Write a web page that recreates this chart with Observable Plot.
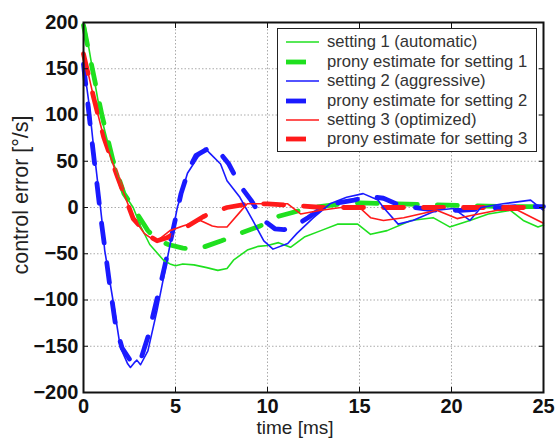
<!DOCTYPE html>
<html>
<head>
<meta charset="utf-8">
<script src="https://cdn.jsdelivr.net/npm/d3@7"></script>
<script src="https://cdn.jsdelivr.net/npm/@observablehq/plot@0.6"></script>
<style>
  body { margin: 0; background: #fff; }
  #wrap { position: relative; width: 555px; height: 439px; font-family: "Liberation Sans", Arial, sans-serif; }
  #legend { position: absolute; left: 277px; top: 28px; width: 260px; height: 124px; border: 1.5px solid #222; background: #fff; box-sizing: border-box; }
  #legend .row { position: absolute; left: 0; height: 20px; }
  #legend .row span { position: absolute; left: 49px; top: 0; line-height: 20px; white-space: nowrap; font-size: 16.6px; color: #333; }
  #legend svg { position: absolute; left: 8px; top: 0; }
  .axlabel { position: absolute; white-space: nowrap; color: #222; line-height: 1; }
  #xlabel { left: 0; width: 590px; text-align: center; top: 418px; font-size: 19px; }
  #ylabel { left: 22px; top: 195px; font-size: 21.5px; transform: translate(-50%, -50%) rotate(-90deg); }
</style>
</head>
<body>
<div id="wrap"></div>
<script>
// time [ms] and control error [°/s]
const t1 = [0, 0.1, 0.5, 0.92, 1.57, 2.2, 2.7, 3.1, 3.6, 4.35, 4.7, 5.0, 5.4, 6.0, 6.7, 7.3, 7.8, 8.15, 8.9, 9.5, 10.0, 10.6, 11.25, 12.0, 12.9, 13.8, 14.9, 15.6, 16.5, 17.8, 19.0, 19.9, 21.0, 22.0, 23.2, 23.9, 24.7, 25];
const setting1 = [197, 195, 148, 101, 51, 15, 0, -20, -40, -57, -61, -63, -61, -62, -65, -68, -66, -57, -46, -42, -41, -38, -43, -32, -25, -18, -18, -29, -25, -14, -11, -21, -14, -7, -3, -14, -21, -19];

const tp1 = [0, 0.5, 1.0, 1.6, 2.2, 2.7, 3.5, 4.0, 4.6, 5.4, 6.0, 6.5, 7.5, 8.5, 9.6, 10.5, 11.8, 12.5, 14.0, 15.0, 17.0, 19.0, 21.0, 23.0, 25];
const prony1 = [197, 148, 100, 51, 15, 0, -25, -35, -40, -44, -45, -43, -36, -28, -20, -10, -3, 0, 4, 5, 4, 3, 2, 1, 1];

const t2 = [0, 0.3, 0.55, 0.8, 1.0, 1.15, 1.6, 2.0, 2.4, 2.55, 2.75, 2.9, 3.1, 3.5, 4.0, 4.5, 5.1, 5.65, 6.2, 6.6, 6.9, 7.45, 7.8, 8.5, 9.2, 9.8, 10.3, 11.1, 11.6, 12.5, 13.4, 14.3, 15.2, 16.0, 16.3, 17.1, 17.9, 19.2, 20.1, 21.0, 21.6, 22.8, 24.3, 25];
const setting2 = [156, 112, 65, 22, -14, -46, -100, -151, -169, -173, -168, -165, -170, -155, -111, -61, 0, 37, 54, 64, 58, 47, 29, 11, -14, -36, -45, -39, -28, -11, 4, 11, 15, 8, 0, -18, -14, -3, -1, -14, 0, 4, 8, -3];

const tp2 = [0, 0.5, 1.0, 1.4, 1.75, 2.1, 2.7, 3.1, 3.5, 3.8, 4.2, 4.8, 5.3, 5.7, 6.1, 6.8, 7.3, 7.9, 8.5, 9.1, 9.8, 10.4, 10.9, 11.5, 12.2, 13.0, 13.8, 14.7, 15.5, 16.3, 17.0, 18.0, 19.2, 20.5, 22.0, 23.5, 25];
const prony2 = [155, 65, -20, -80, -128, -152, -170, -165, -140, -115, -82, -30, 15, 40, 56, 64, 62, 47, 24, 8, -14, -23, -24, -20, -11, 0, 5, 8, 12, 10, 4, 0, -3, -3, -1, 1, 1];

const t3 = [0, 0.55, 1.1, 1.85, 2.7, 3.3, 3.8, 4.0, 4.7, 5.4, 6.35, 7.0, 7.3, 7.8, 8.5, 8.9, 10.0, 11.1, 11.8, 12.9, 14.0, 15.0, 15.6, 16.3, 17.4, 19.2, 20.3, 21.0, 22.5, 23.6, 24.7, 25];
const setting3 = [168, 119, 76, 33, -11, -28, -35, -36, -25, -20, -14, -20, -21, -21, -5, 4, 4, 4, -7, -3, 0, 0, -11, -14, -11, -3, -12, -9, -3, -3, -14, -17];

const tp3 = [0, 0.55, 1.1, 1.85, 2.7, 3.5, 4.0, 4.5, 5.5, 6.5, 7.0, 7.8, 9.0, 10.0, 11.6, 13.0, 15.0, 18.0, 21.0, 25];
const prony3 = [166, 119, 76, 33, -12, -30, -36, -33, -22, -10, -5, 0, 4, 4, 2, 0, 0, 0, 0, 0];

const xTicks = [0, 5, 10, 15, 20, 25];
const yTicks = [-200, -150, -100, -50, 0, 50, 100, 150, 200];
const xLabel = "time [ms]";
const yLabel = "control error [°/s]";

const seriesNames = ["setting 1 (automatic)", "prony estimate for setting 1", "setting 2 (aggressive)", "prony estimate for setting 2", "setting 3 (optimized)", "prony estimate for setting 3"];
const seriesColors = ["#1fe01f", "#1fe01f", "#1a1aff", "#1a1aff", "#ff1a1a", "#ff1a1a"];
const seriesDashed = [false, true, false, true, false, true];

const toRows = (ts, vs) => ts.map((t, i) => ({t, v: vs[i]}));
const allSeries = [
  toRows(t1, setting1), toRows(tp1, prony1),
  toRows(t2, setting2), toRows(tp2, prony2),
  toRows(t3, setting3), toRows(tp3, prony3)
];

const DASH = "20,20";
const lineMarks = allSeries.map((rows, i) => Plot.line(rows, {
  x: "t", y: "v",
  stroke: seriesColors[i],
  strokeWidth: seriesDashed[i] ? 4.8 : 1.6,
  strokeDasharray: seriesDashed[i] ? DASH : null,
  strokeLinejoin: "round"
}));
// draw order: dashed estimates first, then measured lines
const order = [1, 3, 5, 0, 2, 4];

const chart = Plot.plot({
  width: 555, height: 439,
  marginLeft: 83, marginRight: 12, marginTop: 22, marginBottom: 47,
  style: {fontFamily: "Liberation Sans, Arial, sans-serif", background: "#fff", color: "#111"},
  x: {domain: [0, 25], ticks: xTicks},
  y: {domain: [-200, 200], ticks: yTicks},
  marks: [
    Plot.gridX(xTicks.slice(1, -1), {stroke: "#aaa", strokeOpacity: 1, strokeDasharray: "1.5,2"}),
    Plot.gridY(yTicks.slice(1, -1), {stroke: "#aaa", strokeOpacity: 1, strokeDasharray: "1.5,2"}),
    ...order.map(i => lineMarks[i]),
    Plot.axisX(xTicks, {tickSize: 0, tickPadding: 6, fontSize: 20, fontWeight: "bold", label: null}),
    Plot.axisY(yTicks, {tickSize: 0, tickPadding: 5, fontSize: 20, fontWeight: "bold", label: null}),
    Plot.axisX(xTicks, {anchor: "bottom", tickSize: -5, tickFormat: () => "", label: null}),
    Plot.axisX(xTicks, {anchor: "top", tickSize: -5, tickFormat: () => "", label: null}),
    Plot.axisY(yTicks, {anchor: "left", tickSize: -5, tickFormat: () => "", label: null}),
    Plot.axisY(yTicks, {anchor: "right", tickSize: -5, tickFormat: () => "", label: null}),
    Plot.frame({stroke: "#111", strokeWidth: 2})
  ]
});

const wrap = document.getElementById("wrap");
wrap.appendChild(chart);

const xl = document.createElement("div");
xl.id = "xlabel"; xl.className = "axlabel"; xl.textContent = xLabel;
wrap.appendChild(xl);
const yl = document.createElement("div");
yl.id = "ylabel"; yl.className = "axlabel"; yl.textContent = yLabel;
wrap.appendChild(yl);

const legend = document.createElement("div");
legend.id = "legend";
const rowTops = [3, 23, 42, 62, 81, 100];
seriesNames.forEach((name, i) => {
  const row = document.createElement("div");
  row.className = "row";
  row.style.top = rowTops[i] + "px";
  row.style.width = "255px";
  const sw = seriesDashed[i] ? 4.8 : 1.6;
  row.innerHTML = `<svg width="34" height="20"><line x1="0" y1="10" x2="33" y2="10" stroke="${seriesColors[i]}" stroke-width="${sw}" ${seriesDashed[i] ? 'stroke-dasharray="20,20"' : ''}/></svg><span>${name}</span>`;
  legend.appendChild(row);
});
wrap.appendChild(legend);
</script>
</body>
</html>
